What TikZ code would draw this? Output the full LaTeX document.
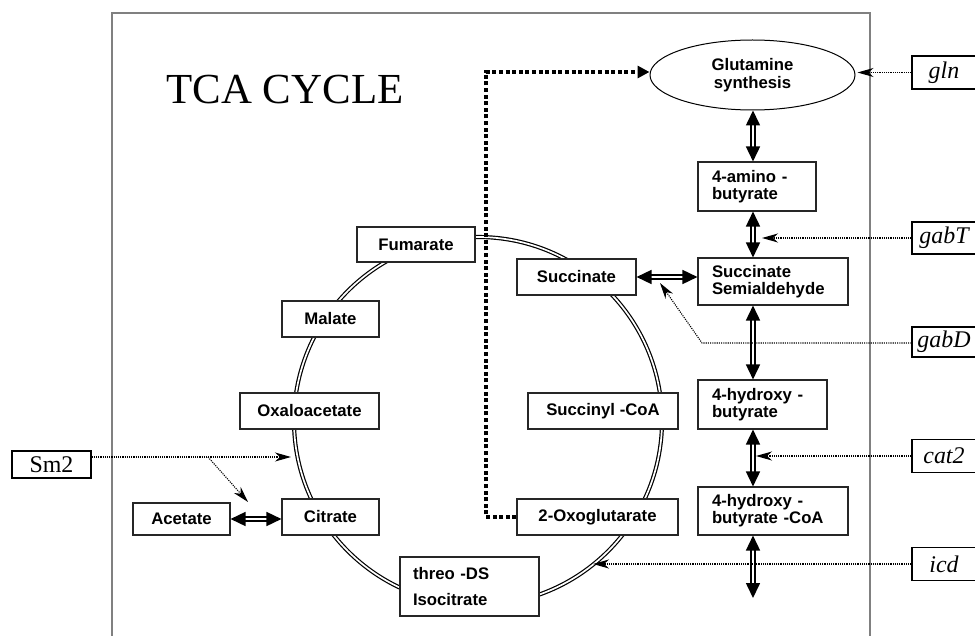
\documentclass[tikz,border=0pt]{standalone}
\usepackage{fontspec}
\setmainfont{Liberation Serif}
\setsansfont{Liberation Sans}
\usetikzlibrary{arrows.meta,shapes.geometric}

\begin{document}
\begin{tikzpicture}[x=1bp,y=-1bp,
    met/.style={draw=black!85,fill=white,line width=1.1bp,inner sep=0pt,
      font=\sffamily\bfseries\fontsize{16.8}{17}\selectfont},
    metl/.style={met,align=left,inner xsep=14bp},
    gene/.style={draw=black,fill=white,line width=1.3bp,inner sep=0pt,
      minimum width=64bp,font=\itshape\fontsize{24}{24}\selectfont},
    pathway/.style={double,double distance=2bp,line width=1.6bp,
      arrows={Triangle[length=15bp,width=14bp]-Triangle[length=15bp,width=14bp]}},
    control/.style={line width=1.1bp,dash pattern=on 1.1bp off 1.1bp,
      -{Stealth[length=16bp,width=9bp,inset=5bp]}},
    link/.style={line width=4bp,dash pattern=on 4bp off 2.6bp,
      -{Triangle[length=12bp,width=12bp]}}]
        \clip (0,0) rectangle (975,636);

        % Frame round the cycle
        \draw[gray,line width=1.3bp] (112,636) -- (112,13) -- (870,13) -- (870,636);
        \node[font=\fontsize{43}{43}\selectfont] (title) at (285,90) {TCA CYCLE};

        % The cycle itself
        \draw[double,double distance=1.7bp,line width=1.2bp] (478,421) circle[radius=184bp];
        \node[met,minimum width=118bp,minimum height=35bp] (fum) at (416,244.5) {Fumarate};
        \node[met,minimum width=97bp,minimum height=36bp] (mal) at (330.5,319) {Malate};
        \node[met,minimum width=139bp,minimum height=36bp] (oxa) at (309.5,411) {Oxaloacetate};
        \node[met,minimum width=97bp,minimum height=36bp] (cit) at (330.5,517) {Citrate};
        \node[met,minimum width=97bp,minimum height=32bp] (ace) at (181.5,519) {Acetate};
        \node[metl,text width=113bp,minimum height=59bp,inner xsep=13bp,
          font=\sffamily\bfseries\fontsize{16.8}{27}\selectfont] (iso) at (469.5,586.5) {threo -DS\\Isocitrate};
        \node[met,minimum width=161bp,minimum height=36bp] (oxo) at (597.5,517) {2-Oxoglutarate};
        \node[met,minimum width=150bp,minimum height=36bp] (sca) at (603,411) {Succinyl -CoA};
        \node[met,minimum width=119bp,minimum height=36bp] (suc) at (576.5,277) {Succinate};

        % Side branch to glutamine
        \node[draw,ellipse,fill=white,line width=1bp,minimum width=205bp,minimum height=70bp,align=center,
          font=\sffamily\bfseries\fontsize{16.8}{18}\selectfont] (gs) at (752.5,75) {Glutamine\\synthesis};
        \node[metl,text width=90bp,minimum height=49bp] (gaba) at (757,186.5) {4-amino -\\butyrate};
        \node[metl,text width=122bp,minimum height=47bp] (ssa) at (773,281.5) {Succinate\\Semialdehyde};
        \node[metl,text width=101bp,minimum height=49bp] (hb) at (762.5,404.5) {4-hydroxy -\\butyrate};
        \node[metl,text width=122bp,minimum height=48bp] (hbcoa) at (773,511) {4-hydroxy -\\butyrate -CoA};

        \coordinate (col) at (753,0);
        \coordinate (out) at (753,598);
        \draw[pathway] (gs.south -| col) -- (gaba.north -| col);
        \draw[pathway] (gaba.south -| col) -- (ssa.north -| col);
        \draw[pathway] (ssa.south -| col) -- (hb.north -| col);
        \draw[pathway] (hb.south -| col) -- (hbcoa.north -| col);
        \draw[pathway] (hbcoa.south -| col) -- (out);
        \draw[pathway] (suc.east) -- (suc.east -| ssa.west);
        \draw[pathway] (ace.east) -- (ace.east -| cit.west);

        % Link from 2-oxoglutarate
        \coordinate (bend) at (486,72);
        \draw[link] (oxo.west) -| (bend) -- (bend -| gs.west);

        % Genes
        \node[gene,minimum height=33bp] (gln) at (944,72.5) {gln};
        \node[gene,minimum height=32bp] (gabT) at (944,238) {gabT};
        \node[gene,minimum height=30bp] (gabD) at (944,342) {gabD};
        \node[gene,minimum height=33bp] (cat2) at (944,456) {cat2};
        \node[gene,minimum height=33bp] (icd) at (944,564) {icd};
        \node[gene,minimum width=79bp,minimum height=27bp,font=\fontsize{24}{24}\selectfont] (sm2) at (51.5,464.5) {Sm2};

        \draw[control] (gln.west) -- ([xshift=2bp]gln.west -| gs.east);
        \draw[control] (gabT.west) -- ([xshift=9bp]gabT.west -| col);
        \coordinate (gabDbend) at (702,343);
        \coordinate (gabDtip) at (660,283);
        \draw[control] (gabD.west |- gabDbend) -- (gabDbend) -- (gabDtip);
        \draw[control] (cat2.west) -- ([xshift=3bp]cat2.west -| col);
        \coordinate (icdtip) at (593,0);
        \draw[control] (icd.west) -- (icd.west -| icdtip);
        \coordinate (smsplit) at (208,457);
        \coordinate (smtip) at (291,457);
        \coordinate (smtip2) at (248,502);
        \draw[control] (sm2.east |- smsplit) -- (smtip);
        \draw[control] (smsplit) -- (smtip2);
\end{tikzpicture}
\end{document}
